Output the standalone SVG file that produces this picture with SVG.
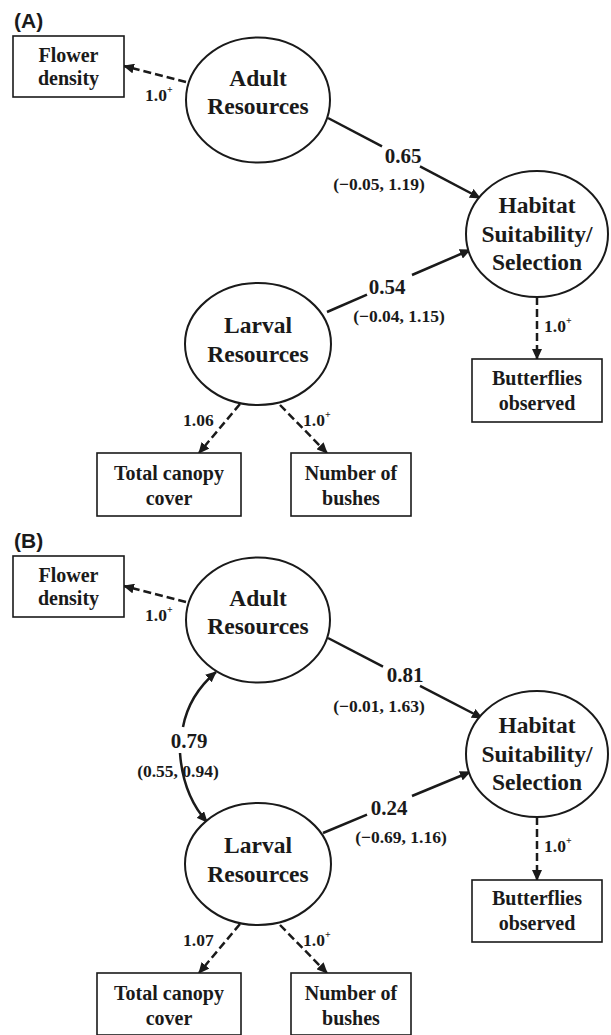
<svg xmlns="http://www.w3.org/2000/svg" width="611" height="1035" viewBox="0 0 611 1035">
<defs>
<marker id="ah" markerUnits="userSpaceOnUse" markerWidth="11" markerHeight="10" refX="10" refY="5" orient="auto">
<path d="M0,0 L11,5 L0,10 z" fill="#1a1a1a"/>
</marker>
<style>
.bg{fill:#fff}
.lat{fill:#fff;stroke:#1a1a1a;stroke-width:2}
.obs{fill:#fff;stroke:#1a1a1a;stroke-width:1.6}
.lt{font-family:"Liberation Serif","Times New Roman",serif;font-weight:bold;font-size:23.5px;fill:#1a1a1a;text-anchor:middle}
.bt{font-family:"Liberation Serif","Times New Roman",serif;font-weight:bold;font-size:20px;fill:#1a1a1a;text-anchor:middle}
.coef{font-family:"Liberation Serif","Times New Roman",serif;font-weight:bold;font-size:21px;fill:#1a1a1a;text-anchor:middle}
.ci{font-family:"Liberation Serif","Times New Roman",serif;font-weight:bold;font-size:17.5px;fill:#1a1a1a;text-anchor:middle}
.ld{font-family:"Liberation Serif","Times New Roman",serif;font-weight:bold;font-size:17.5px;fill:#1a1a1a}
.sup{font-size:10px}
.pl{font-family:"Liberation Sans",Arial,sans-serif;font-weight:bold;font-size:21px;fill:#1a1a1a}
.sol{fill:none;stroke:#1a1a1a;stroke-width:2.5}
.dsh{fill:none;stroke:#1a1a1a;stroke-width:2.5;stroke-dasharray:8,4}
</style>
</defs>
<rect class="bg" x="0" y="0" width="611" height="1035"/>

<text class="pl" x="14" y="28">(A)</text>
<text class="pl" x="14" y="548">(B)</text>

<g id="connectors">
<!-- Panel A -->
<path class="dsh" d="M186,82 L124,66" marker-end="url(#ah)"/>
<path class="sol" d="M328,118 L382,146.4"/>
<path class="sol" d="M420,166.4 L480,198" marker-end="url(#ah)"/>
<path class="sol" d="M327,312 L367,294.6"/>
<path class="sol" d="M412,275 L470,250" marker-end="url(#ah)"/>
<path class="dsh" d="M537,297 L537,359" marker-end="url(#ah)"/>
<path class="dsh" d="M240,404 L199,453" marker-end="url(#ah)"/>
<path class="dsh" d="M280,405 L327,453" marker-end="url(#ah)"/>
<!-- Panel B -->
<path class="dsh" d="M186,602 L124,586" marker-end="url(#ah)"/>
<path class="sol" d="M328,638 L383,666.6"/>
<path class="sol" d="M420,685.8 L482,718" marker-end="url(#ah)"/>
<path class="sol" d="M323,833 L367,814.7"/>
<path class="sol" d="M412,796 L470,772" marker-end="url(#ah)"/>
<path class="dsh" d="M537,817 L537,880" marker-end="url(#ah)"/>
<path class="dsh" d="M240,924 L199,973" marker-end="url(#ah)"/>
<path class="dsh" d="M280,925 L327,973" marker-end="url(#ah)"/>
<path class="sol" d="M183,727 Q189,695 216,672" marker-end="url(#ah)"/>
<path class="sol" d="M180,753 Q183,795 207,822" marker-end="url(#ah)"/>
</g>

<g id="labels">
<text class="ld" x="145" y="101">1.0<tspan class="sup" dy="-8">+</tspan></text>
<text class="coef" x="403" y="163">0.65</text>
<text class="ci" x="379" y="190">(−0.05, 1.19)</text>
<text class="coef" x="387" y="294">0.54</text>
<text class="ci" x="399" y="322">(−0.04, 1.15)</text>
<text class="ld" x="544" y="332">1.0<tspan class="sup" dy="-8">+</tspan></text>
<text class="ld" x="183" y="426">1.06</text>
<text class="ld" x="303" y="426">1.0<tspan class="sup" dy="-8">+</tspan></text>

<text class="ld" x="145" y="621">1.0<tspan class="sup" dy="-8">+</tspan></text>
<text class="coef" x="405" y="682">0.81</text>
<text class="ci" x="379" y="712">(−0.01, 1.63)</text>
<text class="coef" x="389" y="815">0.24</text>
<text class="ci" x="401" y="843">(−0.69, 1.16)</text>
<text class="ld" x="544" y="852">1.0<tspan class="sup" dy="-8">+</tspan></text>
<text class="ld" x="183" y="946">1.07</text>
<text class="ld" x="303" y="946">1.0<tspan class="sup" dy="-8">+</tspan></text>
<text class="coef" x="189" y="748">0.79</text>
<text class="ci" x="178" y="777">(0.55, 0.94)</text>
</g>

<!-- Panel A nodes -->
<g id="A_flower">
<rect class="obs" x="13" y="36" width="111" height="61"/>
<text class="bt" x="68.5" y="62">Flower</text>
<text class="bt" x="68.5" y="85">density</text>
</g>
<g id="A_adult">
<ellipse class="lat" cx="258" cy="100" rx="72" ry="62.5"/>
<text class="lt" x="258" y="86">Adult</text>
<text class="lt" x="258" y="114">Resources</text>
</g>
<g id="A_habitat">
<ellipse class="lat" cx="537" cy="234" rx="71" ry="63"/>
<text class="lt" x="537" y="213">Habitat</text>
<text class="lt" x="537" y="242">Suitability/</text>
<text class="lt" x="537" y="270">Selection</text>
</g>
<g id="A_larval">
<ellipse class="lat" cx="258" cy="344" rx="73" ry="61"/>
<text class="lt" x="258" y="333">Larval</text>
<text class="lt" x="258" y="362">Resources</text>
</g>
<g id="A_butterflies">
<rect class="obs" x="472" y="359" width="130" height="63"/>
<text class="bt" x="537" y="385">Butterflies</text>
<text class="bt" x="537" y="410">observed</text>
</g>
<g id="A_canopy">
<rect class="obs" x="97" y="453" width="144" height="63"/>
<text class="bt" x="169" y="480">Total canopy</text>
<text class="bt" x="169" y="505">cover</text>
</g>
<g id="A_bushes">
<rect class="obs" x="291" y="453" width="120" height="63"/>
<text class="bt" x="351" y="480">Number of</text>
<text class="bt" x="351" y="505">bushes</text>
</g>

<!-- Panel B nodes -->
<g id="B_flower">
<rect class="obs" x="13" y="556" width="111" height="61"/>
<text class="bt" x="68.5" y="582">Flower</text>
<text class="bt" x="68.5" y="605">density</text>
</g>
<g id="B_adult">
<ellipse class="lat" cx="258" cy="620" rx="72" ry="62.5"/>
<text class="lt" x="258" y="606">Adult</text>
<text class="lt" x="258" y="634">Resources</text>
</g>
<g id="B_habitat">
<ellipse class="lat" cx="537" cy="754" rx="71" ry="63"/>
<text class="lt" x="537" y="733">Habitat</text>
<text class="lt" x="537" y="762">Suitability/</text>
<text class="lt" x="537" y="790">Selection</text>
</g>
<g id="B_larval">
<ellipse class="lat" cx="258" cy="864" rx="73" ry="61"/>
<text class="lt" x="258" y="853">Larval</text>
<text class="lt" x="258" y="882">Resources</text>
</g>
<g id="B_butterflies">
<rect class="obs" x="472" y="880" width="130" height="62"/>
<text class="bt" x="537" y="905">Butterflies</text>
<text class="bt" x="537" y="930">observed</text>
</g>
<g id="B_canopy">
<rect class="obs" x="97" y="973" width="144" height="62"/>
<text class="bt" x="169" y="1000">Total canopy</text>
<text class="bt" x="169" y="1025">cover</text>
</g>
<g id="B_bushes">
<rect class="obs" x="291" y="973" width="120" height="62"/>
<text class="bt" x="351" y="1000">Number of</text>
<text class="bt" x="351" y="1025">bushes</text>
</g>
</svg>
